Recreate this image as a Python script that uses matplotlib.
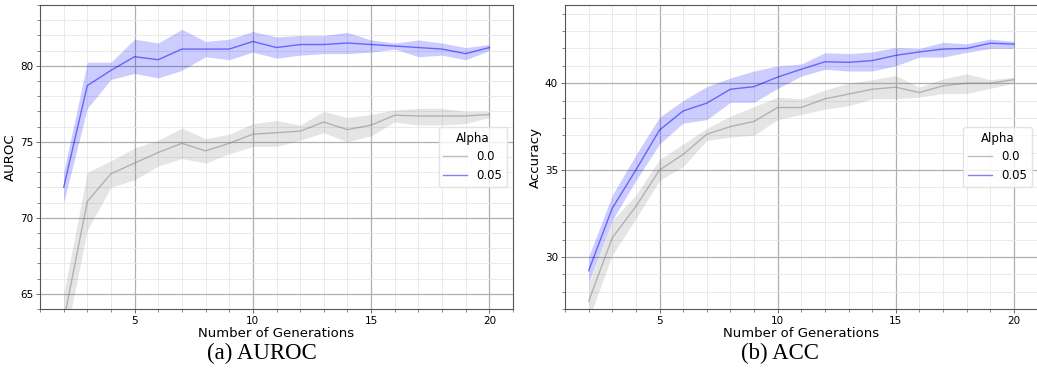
import matplotlib
matplotlib.use("Agg")
import matplotlib.pyplot as plt
from matplotlib.ticker import MultipleLocator
import numpy as np

generations = list(range(2, 21))

# AUROC, alpha = 0.0
auroc_a0_mean = [63.2, 71.07, 72.9, 73.6, 74.3, 74.9, 74.4, 74.9, 75.5, 75.6, 75.7, 76.3, 75.8, 76.1, 76.75, 76.7, 76.7, 76.7, 76.8]
auroc_a0_low = [61.5, 69.2, 72.0, 72.5, 73.4, 73.9, 73.6, 74.2, 74.7, 74.7, 75.1, 75.6, 75.0, 75.4, 76.3, 76.1, 76.1, 76.2, 76.6]
auroc_a0_high = [65.0, 73.0, 73.75, 74.6, 75.1, 75.9, 75.2, 75.5, 76.2, 76.4, 76.1, 77.0, 76.6, 76.8, 77.1, 77.2, 77.2, 77.0, 77.0]
# AUROC, alpha = 0.05
auroc_a5_mean = [72.0, 78.7, 79.7, 80.6, 80.4, 81.1, 81.1, 81.1, 81.6, 81.2, 81.4, 81.4, 81.5, 81.4, 81.3, 81.2, 81.1, 80.8, 81.2]
auroc_a5_low = [71.0, 77.2, 79.1, 79.5, 79.2, 79.7, 80.6, 80.4, 80.9, 80.5, 80.7, 80.8, 80.8, 80.9, 81.1, 80.6, 80.7, 80.4, 81.0]
auroc_a5_high = [73.0, 80.24, 80.24, 81.75, 81.5, 82.4, 81.6, 81.75, 82.26, 81.9, 82.0, 82.0, 82.2, 81.7, 81.5, 81.7, 81.5, 81.2, 81.4]

# Accuracy, alpha = 0.0
acc_a0_mean = [27.44, 31.1, 32.9, 35.0, 35.9, 37.06, 37.5, 37.8, 38.6, 38.6, 39.1, 39.37, 39.65, 39.77, 39.46, 39.85, 40.0, 40.0, 40.2]
acc_a0_low = [26.4, 30.1, 32.2, 34.4, 35.2, 36.7, 36.9, 37.0, 37.9, 38.2, 38.5, 38.7, 39.1, 39.1, 39.2, 39.4, 39.4, 39.7, 40.0]
acc_a0_high = [28.4, 32.1, 33.56, 35.6, 36.5, 37.4, 38.1, 38.65, 39.2, 39.1, 39.6, 40.0, 40.2, 40.44, 39.77, 40.25, 40.54, 40.2, 40.35]
# Accuracy, alpha = 0.05
acc_a5_mean = [29.2, 32.8, 35.0, 37.3, 38.4, 38.85, 39.65, 39.8, 40.35, 40.8, 41.23, 41.2, 41.3, 41.6, 41.8, 41.96, 42.0, 42.3, 42.25]
acc_a5_low = [28.5, 32.1, 34.4, 36.5, 37.7, 37.9, 38.9, 38.9, 39.7, 40.4, 40.8, 40.7, 40.7, 41.0, 41.5, 41.5, 41.77, 42.0, 42.0]
acc_a5_high = [30.0, 33.56, 35.87, 38.04, 39.0, 39.8, 40.3, 40.7, 41.0, 41.1, 41.75, 41.7, 41.8, 42.06, 42.0, 42.35, 42.27, 42.54, 42.4]

legend_labels = ["0.0", "0.05"]
legend_title = "Alpha"
colors = ["#808080", "#0000ff"]

W, H = 1037, 383
fig = plt.figure(figsize=(W / 100, H / 100), dpi=100)

def px_axes(x0, x1, y0, y1):
    return fig.add_axes([x0 / W, 1 - y1 / H, (x1 - x0) / W, (y1 - y0) / H])

ax1 = px_axes(40, 513, 5, 309)
ax2 = px_axes(565, 1037.5, 5, 309)

def draw(ax, series, ylim, ylabel, caption, cap_x):
    for (m, lo, hi), c, lab in zip(series, colors, legend_labels):
        ax.fill_between(generations, lo, hi, color=c, alpha=0.2, linewidth=0)
        ax.plot(generations, m, color=c, alpha=0.5, linewidth=1.0, label=lab)
    ax.set_xlim(1, 21)
    ax.set_ylim(*ylim)
    ax.xaxis.set_major_locator(MultipleLocator(5))
    ax.xaxis.set_minor_locator(MultipleLocator(1))
    ax.yaxis.set_major_locator(MultipleLocator(5))
    ax.yaxis.set_minor_locator(MultipleLocator(1))
    ax.grid(which="major", color="#b0b0b0", linewidth=0.9)
    ax.grid(which="minor", color="#e6e6e6", linewidth=0.6)
    ax.set_axisbelow(True)
    for s in ax.spines.values():
        s.set_color("#555555")
        s.set_linewidth(0.8)
    ax.tick_params(which="major", labelsize=7.5, length=3, width=0.6, color="#555555", pad=2)
    ax.tick_params(which="minor", length=2, width=0.5, color="#555555")
    ax.set_xlabel("Number of Generations", fontsize=9.5, labelpad=1)
    ax.set_ylabel(ylabel, fontsize=9.5, labelpad=2)
    ax.legend(title=legend_title, loc="center right", fontsize=8.5, title_fontsize=8.5,
              frameon=True, framealpha=0.8, edgecolor="#dddddd")
    fig.text(cap_x / W, 1 - 353 / H, caption, ha="center", va="center",
             fontsize=16.5, family="Liberation Serif")

draw(ax1,
     [(auroc_a0_mean, auroc_a0_low, auroc_a0_high), (auroc_a5_mean, auroc_a5_low, auroc_a5_high)],
     (64.0, 84.0), "AUROC", "(a) AUROC", 262)
draw(ax2,
     [(acc_a0_mean, acc_a0_low, acc_a0_high), (acc_a5_mean, acc_a5_low, acc_a5_high)],
     (27.0, 44.5), "Accuracy", "(b) ACC", 780)

fig.savefig("out.png", dpi=100)
